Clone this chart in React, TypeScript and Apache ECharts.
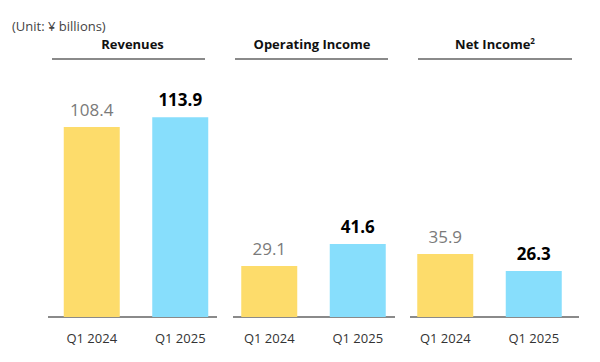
import React, { useEffect, useRef } from "react";
import * as echarts from "echarts";

const categories = ["Q1 2024", "Q1 2025"];
const panelTitles = ["Revenues", "Operating Income", "Net Income"];
const revenues = [108.4, 113.9];
const operatingIncome = [29.1, 41.6];
const netIncome = [35.9, 26.3];
const unitLabel = "(Unit: ¥ billions)";

const YELLOW = "#FDDC6B";
const BLUE = "#87DEFC";
const FONT = "'Open Sans', sans-serif";

export default function App() {
  const ref = useRef<HTMLDivElement>(null);
  useEffect(() => {
    if (!ref.current) return;
    const chart = echarts.init(ref.current, null, { renderer: "svg" });
    const seriesData = [revenues, operatingIncome, netIncome];
    const lefts = [47.5, 225, 401];
    const grids = lefts.map((l) => ({ left: l, width: 177, top: 106.6, bottom: 45 }));
    const xAxes = lefts.map((_, i) => ({
      type: "category",
      gridIndex: i,
      data: categories,
      axisLine: { show: false },
      axisTick: { show: false },
      axisLabel: { color: "#333", fontSize: 13, fontFamily: FONT, margin: 14 },
    }));
    const yAxes = lefts.map((_, i) => ({
      type: "value",
      gridIndex: i,
      min: 0,
      max: 120,
      show: false,
      splitLine: { show: false },
    }));
    const series = seriesData.map((vals, i) => ({
      type: "bar",
      xAxisIndex: i,
      yAxisIndex: i,
      barWidth: 56,
      data: vals.map((v, j) => ({
        value: v,
        itemStyle: { color: j === 0 ? YELLOW : BLUE },
        label: {
          show: true,
          position: "top",
          distance: 9,
          fontFamily: FONT,
          fontSize: 17,
          color: j === 0 ? "#7a7a7a" : "#000",
          fontWeight: j === 0 ? "normal" : "bold",
          formatter: (p: any) => p.value.toFixed(1),
        },
      })),
    }));
    const axisSegs = [
      [48, 217],
      [233, 395],
      [410, 579],
    ];
    const underlines = [
      [52, 205],
      [235, 388],
      [418, 572],
    ];
    const titleCenters = [132.5, 312, 495];
    const graphic: any[] = [];
    axisSegs.forEach(([a, b]) =>
      graphic.push({
        type: "line",
        shape: { x1: a, y1: 317, x2: b, y2: 317 },
        style: { stroke: "#8a8a8a", lineWidth: 2 },
      })
    );
    underlines.forEach(([a, b]) =>
      graphic.push({
        type: "line",
        shape: { x1: a, y1: 59, x2: b, y2: 59 },
        style: { stroke: "#8a8a8a", lineWidth: 2 },
      })
    );
    panelTitles.forEach((t, i) =>
      graphic.push({
        type: "text",
        x: titleCenters[i],
        y: 44,
        style: {
          text: i === 2 ? t + "{sup|2}" : t,
          fontFamily: FONT,
          fontSize: 13,
          fontWeight: "bold",
          fill: "#111",
          align: "center",
          verticalAlign: "middle",
          rich: {
            sup: { fontSize: 8, fontWeight: "bold", fontFamily: FONT, fill: "#111", verticalAlign: "top", padding: [0, 0, 8, 0] },
          },
        },
      })
    );
    graphic.push({
      type: "text",
      x: 12,
      y: 26,
      style: {
        text: unitLabel,
        fontFamily: FONT,
        fontSize: 13,
        fill: "#444",
        align: "left",
        verticalAlign: "middle",
      },
    });
    chart.setOption({
      animation: false,
      backgroundColor: "#fff",
      grid: grids,
      xAxis: xAxes,
      yAxis: yAxes,
      series,
      graphic,
    });
    return () => chart.dispose();
  }, []);
  return <div ref={ref} style={{ width: 600, height: 362, position: "absolute", left: 0, top: 0 }} />;
}
